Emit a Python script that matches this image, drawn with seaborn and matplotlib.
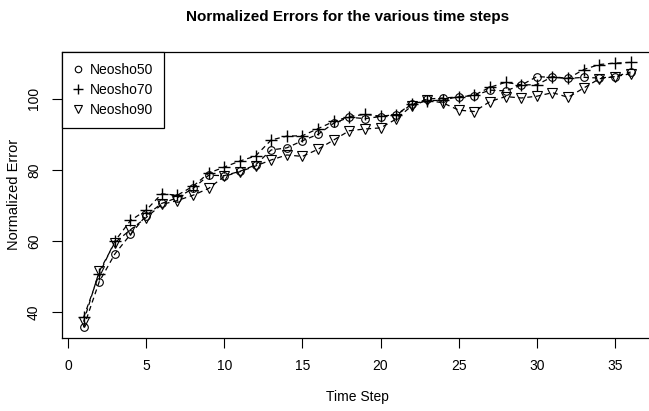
import matplotlib
matplotlib.use("Agg")
import matplotlib.pyplot as plt
from matplotlib.lines import Line2D
import seaborn as sns
import pandas as pd

time_step = list(range(1, 37))
neosho50 = [35.8, 48.6, 56.4, 61.9, 67.2, 70.6, 72.2, 74.8, 78.5, 78.4,
            79.6, 81.4, 85.6, 86.2, 88.2, 90.0, 93.1, 94.8, 94.4, 95.0,
            95.4, 98.4, 99.9, 100.2, 100.5, 100.9, 102.4, 102.2, 103.8, 106.2,
            106.0, 105.7, 106.0, 105.8, 106.2, 107.5]
neosho70 = [38.6, 50.8, 60.0, 65.8, 68.7, 73.3, 72.9, 75.4, 79.1, 80.8,
            82.5, 83.9, 88.4, 89.5, 89.6, 91.6, 93.6, 95.0, 95.6, 95.1,
            95.5, 98.6, 99.4, 99.6, 100.6, 101.0, 103.2, 104.6, 103.9, 103.9,
            106.2, 105.7, 108.2, 109.6, 110.0, 110.2]
neosho90 = [37.4, 51.5, 59.6, 63.2, 66.6, 70.3, 71.4, 72.9, 74.8, 78.2,
            79.5, 81.1, 82.8, 84.2, 83.8, 85.8, 88.4, 91.0, 91.5, 91.8,
            94.3, 98.0, 99.6, 98.8, 96.8, 96.4, 99.2, 100.6, 100.2, 100.7,
            101.7, 100.4, 103.0, 105.6, 106.2, 107.0]
series_names = ["Neosho50", "Neosho70", "Neosho90"]
x_ticks = [0, 5, 10, 15, 20, 25, 30, 35]
y_ticks = [40, 60, 80, 100]

sns.set_style("white")
plt.rcParams["font.family"] = ["Liberation Sans", "DejaVu Sans"]
plt.rcParams["text.color"] = "black"
plt.rcParams["axes.labelcolor"] = "black"
plt.rcParams["xtick.color"] = "black"
plt.rcParams["ytick.color"] = "black"

df = pd.DataFrame({
    "Time Step": time_step * 3,
    "Normalized Error": neosho50 + neosho70 + neosho90,
    "series": sum([[n] * len(time_step) for n in series_names], []),
})

fig = plt.figure(figsize=(6.49, 4.11), dpi=100)
ax = fig.add_axes([0.0951, 0.1776, 0.9103, 0.6966])

markers = {"Neosho50": ("o", 5.5, 0.8), "Neosho70": ("+", 9, 1.0), "Neosho90": ("v", 7, 0.8)}
handles = []
for name in series_names:
    m, ms, mew = markers[name]
    sub = df[df["series"] == name]
    sns.lineplot(data=sub, x="Time Step", y="Normalized Error", ax=ax,
                 color="black", linestyle=(0, (4, 3)), linewidth=0.9,
                 marker=m, markersize=ms, markeredgewidth=mew,
                 markerfacecolor="none", markeredgecolor="black",
                 legend=False, errorbar=None)
    handles.append(Line2D([], [], linestyle="none", marker=m,
                          markersize=ms * 0.85, markeredgewidth=mew,
                          markerfacecolor="none", markeredgecolor="black",
                          label=name))

ax.set_xlim(-0.4, 37.4)
ax.set_ylim(32.8, 113.2)
ax.set_xticks(x_ticks)
ax.set_yticks(y_ticks)
ax.set_xticklabels([str(v) for v in x_ticks], fontsize=10)
ax.set_yticklabels([str(v) for v in y_ticks], fontsize=10, rotation=90, va="center")
ax.tick_params(axis="both", direction="out", length=7, width=0.8, color="black",
               labelcolor="black", bottom=True, left=True, pad=8)
for s in ax.spines.values():
    s.set_visible(True)
    s.set_color("black")
    s.set_linewidth(0.9)

ax.set_xlabel("Time Step", fontsize=10, labelpad=12, color="black")
ax.set_ylabel("Normalized Error", fontsize=10.5, labelpad=4, color="black")
fig.suptitle("Normalized Errors for the various time steps", x=0.535, y=0.975,
             fontsize=11, fontweight="bold", color="black")

leg = ax.legend(handles=handles, loc="upper left", borderaxespad=0,
                fancybox=False, edgecolor="black", framealpha=1,
                fontsize=10, handlelength=0.8, handletextpad=0.4,
                borderpad=0.8, labelspacing=0.45)
leg.get_frame().set_linewidth(0.9)
for t in leg.get_texts():
    t.set_color("black")

fig.savefig("out.png", dpi=100)
